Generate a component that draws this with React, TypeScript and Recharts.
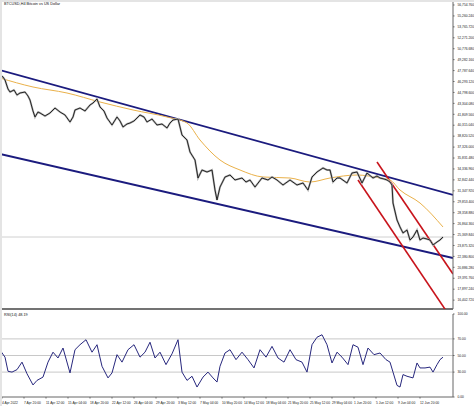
import React from 'react';
import { LineChart, Line, XAxis, YAxis, ReferenceLine } from 'recharts';

const title = 'BTCUSD,H4  Bitcoin vs US Dollar';
const rsiTitle = 'RSI(14) 48.19';

// bar number along the time axis, close price
const priceBars = [0, 3, 5, 8, 10, 14, 17, 20, 25, 28, 30, 33, 35, 38, 40, 45, 50, 55, 60, 65, 70, 73, 75, 80, 85, 90, 93, 97, 100, 104, 107, 112, 117, 120, 123, 127, 130, 134, 137, 140, 144, 147, 152, 157, 162, 167, 170, 173, 178, 182, 187, 190, 195, 198, 202, 207, 212, 215, 217, 220, 225, 230, 235, 242, 246, 250, 255, 262, 268, 272, 277, 283, 290, 297, 303, 308, 312, 317, 323, 327, 330, 333, 337, 340, 347, 352, 357, 362, 367, 373, 377, 380, 384, 387, 390, 392, 393, 397, 400, 403, 407, 410, 413, 417, 420, 423, 427, 430, 433, 437, 440, 443];
const priceClose = [47183, 46910, 46500, 45270, 44859, 45133, 44449, 44722, 44859, 44312, 43765, 42261, 41441, 42124, 41988, 41578, 41988, 42671, 42124, 41714, 40757, 41441, 42398, 42671, 42261, 43082, 43355, 43902, 42808, 42261, 41304, 40347, 41441, 40894, 40073, 40484, 40620, 40894, 41304, 41714, 41441, 40757, 41167, 40347, 40484, 39937, 40620, 41030, 41167, 38979, 38296, 36655, 35561, 33100, 34194, 33920, 34194, 31459, 30092, 31869, 33237, 33510, 32827, 33100, 32553, 32827, 31869, 33100, 32827, 33237, 32827, 32143, 32827, 32143, 32417, 31459, 33237, 33920, 34467, 34194, 34194, 32553, 33100, 33100, 32417, 33784, 33920, 32417, 33784, 33100, 33373, 33100, 32964, 32827, 32553, 32143, 29682, 27357, 26401, 25580, 25990, 24623, 25033, 25990, 24623, 24896, 24760, 24623, 23939, 24349, 24623, 25033];

const maBars = [0, 33, 67, 100, 133, 167, 187, 200, 220, 240, 263, 290, 310, 330, 357, 380, 390, 400, 420, 443];
const maValues = [46773, 45543, 44722, 43492, 42398, 41441, 40620, 38296, 35561, 34194, 33237, 33100, 32553, 33100, 33510, 33100, 32827, 31459, 29682, 26401];

const rsiBars = [0, 5, 8, 12, 17, 22, 27, 33, 37, 43, 48, 53, 58, 63, 70, 75, 80, 86, 92, 97, 102, 108, 112, 117, 122, 128, 134, 140, 145, 150, 155, 160, 166, 172, 178, 182, 187, 192, 197, 203, 208, 213, 217, 220, 225, 230, 236, 242, 248, 254, 260, 266, 272, 278, 284, 290, 296, 302, 307, 312, 317, 322, 327, 332, 337, 342, 348, 353, 358, 363, 368, 374, 380, 386, 390, 393, 397, 400, 403, 407, 410, 413, 417, 420, 425, 430, 433, 437, 440, 443];
const rsiValues = [56.6, 48, 31, 30, 33, 42, 28, 14.5, 20, 24, 42, 54, 47, 59, 29, 57, 63, 69, 54, 63, 37, 23, 29, 51, 42, 57, 63, 48, 54, 66, 47, 54, 39, 52, 69, 30, 20, 25, 12, 24, 30, 23, 18, 37, 53, 57, 45, 54, 45, 35, 57, 48, 61, 47, 42, 57, 45, 42, 30, 63, 72, 75, 63, 41, 54, 48, 39, 63, 60, 39, 59, 51, 53, 45, 42, 30, 14, 12, 27, 25, 24, 23, 41, 35, 35, 36, 30, 39, 45, 48];

const priceTicks = [56754.76, 55260.24, 53765.72, 52271.2, 50776.68, 49282.16, 47787.64, 46293.12, 44798.6, 43304.08, 41809.56, 40315.04, 38820.52, 37326.0, 35831.48, 34336.96, 32842.44, 31347.92, 29853.4, 28358.88, 26864.36, 25369.84, 23875.32, 22380.8, 20886.28, 19391.76, 17897.24, 16402.72];
const rsiTicks = [0, 30, 50, 70, 100];
const rsiLevels = [30, 50, 70];

const timeTicks = [2, 24, 46, 68, 90, 112, 134, 156, 178, 200, 222, 244, 266, 288, 310, 332, 354, 376, 398, 420];
const timeLabels = ['4 Apr 2022', '7 Apr 20:00', '11 Apr 12:00', '15 Apr 04:00', '18 Apr 20:00', '22 Apr 12:00', '26 Apr 04:00', '29 Apr 20:00', '3 May 12:00', '7 May 04:00', '10 May 20:00', '14 May 12:00', '18 May 04:00', '21 May 20:00', '25 May 12:00', '29 May 04:00', '1 Jun 20:00', '5 Jun 12:00', '9 Jun 04:00', '12 Jun 20:00'];

// trend lines: [bar, price] ends
const upperChannel = [[0, 47867], [453, 30776]];
const lowerChannel = [[0, 36382], [453, 22162]];
const redUpper = [[377, 35288], [453, 19974]];
const redLower = [[358, 32827], [453, 13549]];

const priceMin = 15189;
const priceMax = 57438;
const lastPrice = priceClose[priceClose.length - 1];

const priceData = priceBars.map((b, i) => ({ bar: b, close: priceClose[i] }));
const maData = maBars.map((b, i) => ({ bar: b, ma: maValues[i] }));
const rsiData = rsiBars.map((b, i) => ({ bar: b, rsi: rsiValues[i] }));

const fmtPrice = (v: number) =>
  v.toLocaleString('en-US', { minimumFractionDigits: 3, maximumFractionDigits: 3 });

const PriceTick = (props: any) => {
  const { x, y, payload } = props;
  return (
    <text x={x + 1} y={y + 1.2} fontSize={3.3} fill="#222" textAnchor="start" fontFamily="Liberation Sans">
      {fmtPrice(payload.value)}
    </text>
  );
};

const RsiTick = (props: any) => {
  const { x, y, payload } = props;
  return (
    <text x={x + 1} y={y + 1.2} fontSize={3.3} fill="#222" textAnchor="start" fontFamily="Liberation Sans">
      {payload.value.toFixed(2)}
    </text>
  );
};

const TimeTick = (props: any) => {
  const { x, y, payload } = props;
  const idx = timeTicks.indexOf(payload.value);
  return (
    <text x={x} y={y + 3.5} fontSize={3.3} fill="#222" textAnchor="start" fontFamily="Liberation Sans">
      {timeLabels[idx]}
    </text>
  );
};

const seg = (s: number[][]) => s.map(p => ({ x: p[0], y: p[1] }));

const App: React.FC = () => {
  return (
    <div style={{ position: 'absolute', left: 0, top: 0, width: 474, height: 406, background: '#fff', overflow: 'hidden' }}>
      <div style={{ position: 'absolute', left: 0, top: 0 }}>
        <LineChart width={474} height={311} margin={{ top: 0, right: 0, bottom: 2, left: 0 }}>
          <XAxis type="number" dataKey="bar" domain={[0, 453]} hide allowDataOverflow />
          <YAxis
            orientation="right"
            width={21}
            domain={[priceMin, priceMax]}
            ticks={priceTicks}
            tick={<PriceTick />}
            tickSize={1.5}
            axisLine={{ stroke: '#666' }}
            tickLine={{ stroke: '#666' }}
            allowDataOverflow
            interval={0}
          />
          <ReferenceLine y={lastPrice} stroke="#d0d0d0" strokeWidth={1} />
          <ReferenceLine y={priceMin} stroke="#444" strokeWidth={1.5} />
          <ReferenceLine segment={seg(upperChannel)} stroke="#1b1b7e" strokeWidth={1.8} ifOverflow="hidden" />
          <ReferenceLine segment={seg(lowerChannel)} stroke="#1b1b7e" strokeWidth={1.8} ifOverflow="hidden" />
          <ReferenceLine segment={seg(redUpper)} stroke="#c8141c" strokeWidth={1.6} ifOverflow="hidden" />
          <ReferenceLine segment={seg(redLower)} stroke="#c8141c" strokeWidth={1.6} ifOverflow="hidden" />
          <Line data={maData} dataKey="ma" type="monotone" stroke="#eab14a" strokeWidth={1} dot={false} isAnimationActive={false} />
          <Line data={priceData} dataKey="close" type="linear" stroke="#b4b4b4" strokeWidth={2} dot={false} isAnimationActive={false} />
          <Line data={priceData} dataKey="close" type="linear" stroke="#161616" strokeWidth={0.9} dot={false} isAnimationActive={false} />
        </LineChart>
      </div>
      <div style={{ position: 'absolute', left: 0, top: 311 }}>
        <LineChart width={474} height={95} margin={{ top: 3, right: 0, bottom: 0, left: 0 }}>
          <XAxis
            type="number"
            dataKey="bar"
            domain={[0, 453]}
            ticks={timeTicks}
            tick={<TimeTick />}
            height={9}
            tickSize={1.5}
            axisLine={{ stroke: '#666' }}
            tickLine={{ stroke: '#666' }}
            interval={0}
            allowDataOverflow
          />
          <YAxis
            orientation="right"
            width={21}
            domain={[0, 100]}
            ticks={rsiTicks}
            tick={<RsiTick />}
            tickSize={1.5}
            axisLine={{ stroke: '#666' }}
            tickLine={{ stroke: '#666' }}
            interval={0}
          />
          {rsiLevels.map(l => (
            <ReferenceLine key={l} y={l} stroke="#c8c8c8" strokeWidth={1} />
          ))}
          <Line data={rsiData} dataKey="rsi" type="linear" stroke="#27277d" strokeWidth={1} dot={false} isAnimationActive={false} />
        </LineChart>
      </div>
      <div style={{ position: 'absolute', left: 0, top: 0, width: 474, height: 2, background: '#e4e4e4' }} />
      <div style={{ position: 'absolute', left: 0, top: 0, width: 2, height: 406, background: '#e4e4e4' }} />
      <div style={{ position: 'absolute', left: 4, top: 2, fontSize: 3.8, fontFamily: 'Liberation Sans', color: '#111', whiteSpace: 'nowrap' }}>
        {title}
      </div>
      <div style={{ position: 'absolute', left: 4, top: 313, fontSize: 3.8, fontFamily: 'Liberation Sans', color: '#111', whiteSpace: 'nowrap' }}>
        {rsiTitle}
      </div>
    </div>
  );
};

export default App;
